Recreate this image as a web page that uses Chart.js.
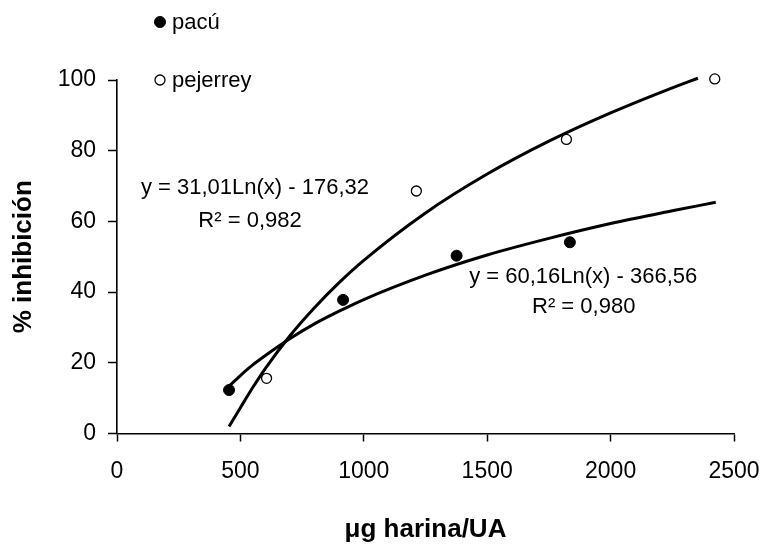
<!DOCTYPE html>
<html lang="es">
<head>
  <meta charset="UTF-8">
  <title>% inhibición - pacú y pejerrey</title>
  <style>
    html, body {
      margin: 0;
      padding: 0;
      background: #fff;
    }
    #wrap {
      width: 765px;
      height: 547px;
    }
  </style>
</head>
<body>
  <div id="wrap"><canvas id="chart" width="765" height="547"></canvas></div>

  <script src="https://cdn.jsdelivr.net/npm/chart.js@4.4.1/dist/chart.umd.min.js"></script>
  <script>
    // measured points
    const pacuX = [454, 916, 1376, 1835];
    const pacuY = [12.3, 37.8, 50.3, 54.1];
    const pejerreyX = [606, 1213, 1821, 2422];
    const pejerreyY = [15.6, 68.6, 83.2, 100.3];

    // trend curves
    const pacuTrendX = [454, 500, 550, 600, 700, 800, 900, 1000, 1250, 1500, 1750, 2000, 2250, 2426];
    const pacuTrendY = [13.4, 16.4, 19.4, 22.0, 26.8, 31.0, 34.6, 37.9, 44.8, 50.5, 55.2, 59.4, 63.0, 65.4];
    const pejerreyTrendX = [454, 500, 550, 600, 700, 800, 900, 1000, 1250, 1500, 1750, 2000, 2250, 2354];
    const pejerreyTrendY = [2.0, 7.3, 13.0, 18.3, 27.6, 35.6, 42.7, 49.0, 62.4, 73.4, 82.7, 90.7, 97.8, 100.5];

    const seriesNames = ['pacú', 'pejerrey'];
    const equationTexts = ['y = 31,01Ln(x) - 176,32', 'R² = 0,982', 'y = 60,16Ln(x) - 366,56', 'R² = 0,980'];
    // anchor of each equation label, in data units
    const equationX = [559, 539, 1889, 1891];
    const equationY = [69.4, 60.1, 44.3, 35.8];

    const xTitle = 'μg harina/UA';
    const yTitle = '% inhibición';

    const FONT = 'Arial, "Liberation Sans", sans-serif';

    function toPoints(xs, ys) {
      return xs.map((x, i) => ({ x: x, y: ys[i] }));
    }

    // legend + equation labels drawn straight on the canvas
    const textLayer = {
      id: 'textLayer',
      afterDatasetsDraw(chart, args, opts) {
        const ctx = chart.ctx;
        const xs = chart.scales.x, ys = chart.scales.y;
        ctx.save();
        ctx.fillStyle = '#000';
        ctx.font = '22px ' + FONT;
        ctx.textAlign = 'center';
        ctx.textBaseline = 'middle';
        equationTexts.forEach((t, i) => {
          ctx.fillText(t, xs.getPixelForValue(equationX[i]), ys.getPixelForValue(equationY[i]));
        });

        // legend rows
        ctx.textAlign = 'left';
        seriesNames.forEach((name, i) => {
          const ds = chart.data.datasets[i];
          const cy = opts.rowY[i];
          ctx.beginPath();
          ctx.arc(opts.markerX, cy, ds.pointRadius, 0, Math.PI * 2);
          ctx.fillStyle = ds.backgroundColor;
          ctx.fill();
          ctx.lineWidth = ds.borderWidth;
          ctx.strokeStyle = ds.borderColor;
          ctx.stroke();
          ctx.fillStyle = '#000';
          ctx.fillText(name, opts.textX, cy + 1);
        });
        ctx.restore();
      }
    };

    const ctx = document.getElementById('chart').getContext('2d');
    new Chart(ctx, {
      type: 'scatter',
      data: {
        datasets: [
          {
            label: seriesNames[0],
            data: toPoints(pacuX, pacuY),
            pointRadius: 5.5,
            backgroundColor: '#000',
            borderColor: '#000',
            borderWidth: 1,
            clip: false,
            order: 0
          },
          {
            label: seriesNames[1],
            data: toPoints(pejerreyX, pejerreyY),
            pointRadius: 5,
            backgroundColor: '#fff',
            borderColor: '#000',
            borderWidth: 1.3,
            clip: false,
            order: 0
          },
          {
            label: 'tendencia pacú',
            data: toPoints(pacuTrendX, pacuTrendY),
            showLine: true,
            pointRadius: 0,
            borderColor: '#000',
            borderWidth: 3,
            cubicInterpolationMode: 'monotone',
            clip: false,
            order: 1
          },
          {
            label: 'tendencia pejerrey',
            data: toPoints(pejerreyTrendX, pejerreyTrendY),
            showLine: true,
            pointRadius: 0,
            borderColor: '#000',
            borderWidth: 3,
            cubicInterpolationMode: 'monotone',
            clip: false,
            order: 1
          }
        ]
      },
      options: {
        responsive: false,
        animation: false,
        layout: {
          padding: { top: 80, right: 31, left: 0, bottom: 0 }
        },
        plugins: {
          legend: { display: false },
          tooltip: { enabled: false },
          textLayer: {
            markerX: 160,
            textX: 172,
            rowY: [22, 80]
          }
        },
        scales: {
          x: {
            type: 'linear',
            min: 0,
            max: 2500,
            ticks: {
              stepSize: 500,
              color: '#000',
              padding: 16,
              maxRotation: 0,
              font: { family: FONT, size: 23 },
              callback: function(value) { return String(value); }
            },
            grid: {
              drawOnChartArea: false,
              drawTicks: true,
              tickLength: 8,
              tickColor: '#000',
              tickWidth: 1.5
            },
            border: { color: '#000', width: 1.6 },
            title: {
              display: true,
              text: xTitle,
              color: '#000',
              padding: { top: 0, bottom: 2 },
              font: { family: FONT, size: 26, weight: 'bold' }
            },
            afterFit: function(scale) {
              scale.height = 113.5;
              // labels may hang over the edges, the layout padding covers them
              scale.paddingLeft = 0;
              scale.paddingRight = 0;
            }
          },
          y: {
            min: 0,
            max: 100,
            ticks: {
              stepSize: 20,
              color: '#000',
              padding: 12,
              font: { family: FONT, size: 23 }
            },
            grid: {
              drawOnChartArea: false,
              drawTicks: true,
              tickLength: 9,
              tickColor: '#000',
              tickWidth: 1.5
            },
            border: { color: '#000', width: 1.6 },
            title: {
              display: true,
              text: yTitle,
              color: '#000',
              padding: { top: 8, bottom: 0 },
              font: { family: FONT, size: 26, weight: 'bold' }
            },
            afterFit: function(scale) { scale.width = 117; }
          }
        }
      },
      plugins: [textLayer]
    });
  </script>
</body>
</html>
